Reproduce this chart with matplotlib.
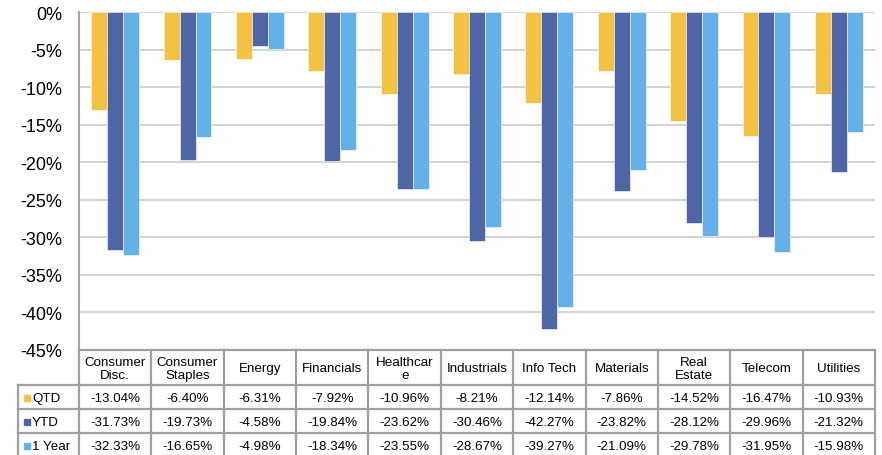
import matplotlib
matplotlib.use("Agg")
import matplotlib.pyplot as plt
from matplotlib.patches import Rectangle
from matplotlib.ticker import FuncFormatter

plt.rcParams['font.family'] = ['Liberation Sans', 'DejaVu Sans']

categories = ['Consumer\nDisc.', 'Consumer\nStaples', 'Energy', 'Financials', 'Healthcar\ne',
              'Industrials', 'Info Tech', 'Materials', 'Real\nEstate', 'Telecom', 'Utilities']
series_names = ['QTD', 'YTD', '1 Year']
qtd = [-13.04, -6.40, -6.31, -7.92, -10.96, -8.21, -12.14, -7.86, -14.52, -16.47, -10.93]
ytd = [-31.73, -19.73, -4.58, -19.84, -23.62, -30.46, -42.27, -23.82, -28.12, -29.96, -21.32]
one_year = [-32.33, -16.65, -4.98, -18.34, -23.55, -28.67, -39.27, -21.09, -29.78, -31.95, -15.98]
yticks = [0, -5, -10, -15, -20, -25, -30, -35, -40, -45]
colors = ['#F3C242', '#4E66A6', '#64B0E8']

W, H = 882, 456
fig = plt.figure(figsize=(W / 100, H / 100), dpi=100)

# plot area in pixels
left, right, top, bottom = 79, 875, 13, 351
ax = fig.add_axes([left / W, 1 - bottom / H, (right - left) / W, (bottom - top) / H])
n = len(categories)
xs = list(range(n))
bw = 0.22
series = [qtd, ytd, one_year]
for k, (vals, c) in enumerate(zip(series, colors)):
    ax.bar([x + (k - 1) * bw for x in xs], vals, width=bw, color=c,
           edgecolor='white', linewidth=0.4, zorder=3, label=series_names[k])
ax.set_xlim(-0.5, n - 0.5)
ax.set_ylim(-45, 0)
ax.set_yticks(yticks)
ax.yaxis.set_major_formatter(FuncFormatter(lambda v, p: f"{int(round(v))}%"))
ax.set_xticks([])
ax.tick_params(axis='y', length=0, pad=12, labelsize=13, labelcolor='black')
ax.grid(axis='y', color='#d0d0d0', linewidth=1.3, zorder=0)
for s in ['top', 'right', 'bottom']:
    ax.spines[s].set_visible(False)
ax.spines['left'].set_color('#a6a6a6')
ax.spines['left'].set_linewidth(1.5)

# table
unit = (right - left) / n
tleft = 18
ax_t = fig.add_axes([tleft / W, 0, (right - tleft) / W, (H - bottom) / H])
x_lab = -0.5 - (left - tleft) / unit
ax_t.set_xlim(x_lab, n - 0.5)
ax_t.set_ylim(H, bottom)
ax_t.axis('off')
lc = '#a0a0a0'
lw = 1.6
rows = [bottom, 386, 410, 434, H + 5]
# horizontal lines
ax_t.plot([-0.5, n - 0.5], [bottom, bottom], color=lc, lw=lw, clip_on=False)
for r in rows[1:4]:
    ax_t.plot([x_lab, n - 0.5], [r, r], color=lc, lw=lw, clip_on=False)
# vertical lines
for i in range(n + 1):
    ax_t.plot([-0.5 + i, -0.5 + i], [bottom, H + 5], color=lc, lw=lw, clip_on=False)
ax_t.plot([x_lab, x_lab], [386, H + 5], color=lc, lw=lw, clip_on=False)

fs = 9.6
for i, cat in enumerate(categories):
    ax_t.text(i, (rows[0] + rows[1]) / 2 + 1, cat, ha='center', va='center',
              fontsize=fs, linespacing=1.05)
for k, vals in enumerate(series):
    yc = (rows[k + 1] + rows[k + 2]) / 2 if k < 2 else (rows[3] + 458) / 2
    for i, v in enumerate(vals):
        ax_t.text(i, yc + 1, f"{v:.2f}%", ha='center', va='center', fontsize=fs)
    sq = 6 / unit
    ax_t.add_patch(Rectangle((x_lab + 6 / unit, yc - 3 + 1), sq, 6, color=colors[k],
                             clip_on=False))
    ax_t.text(x_lab + 14 / unit, yc + 1, series_names[k], ha='left', va='center', fontsize=fs)

fig.savefig('out.png', dpi=100)
